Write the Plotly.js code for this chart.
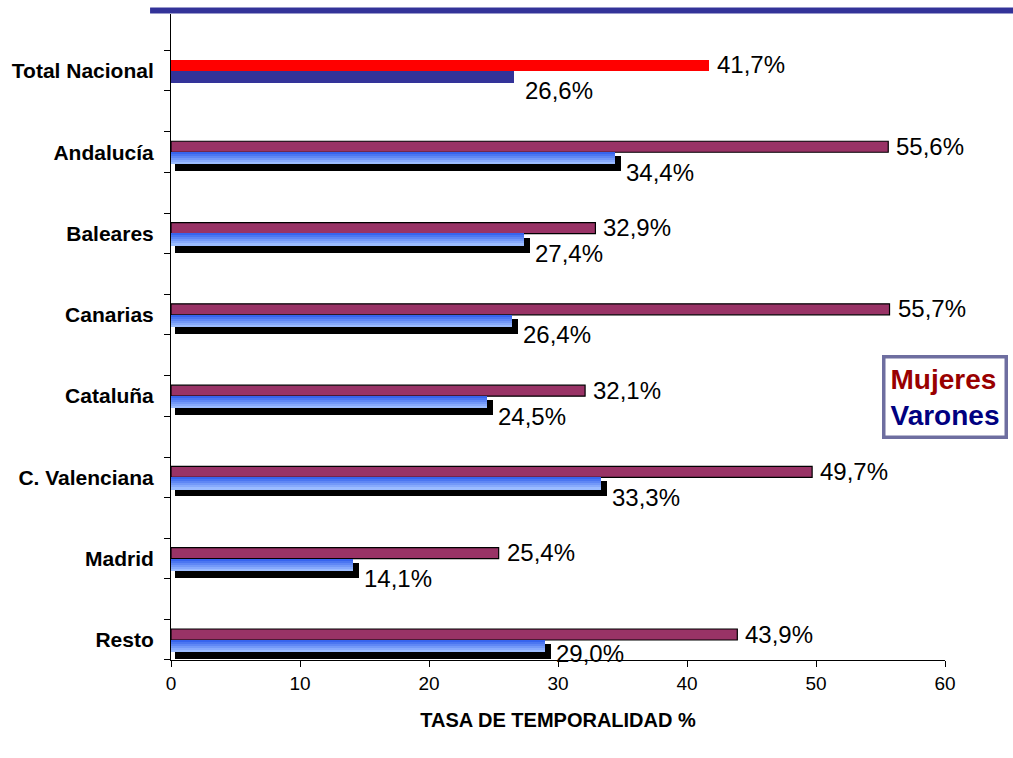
<!DOCTYPE html>
<html>
<head>
<meta charset="utf-8">
<script src="https://cdn.plot.ly/plotly-3.0.1.min.js"></script>
<style>html,body{margin:0;padding:0;background:#fff;}#chart{width:1013px;height:758px;}</style>
</head>
<body>
<div id="chart"></div>
<script>
const categories = ['Total Nacional','Andalucía','Baleares','Canarias','Cataluña','C. Valenciana','Madrid','Resto'];
const mujeres = [41.7, 55.6, 32.9, 55.7, 32.1, 49.7, 25.4, 43.9];
const varones = [26.6, 34.4, 27.4, 26.4, 24.5, 33.3, 14.1, 29.0];
const tickValsX = [0, 10, 20, 30, 40, 50, 60];
const seriesNames = ['Mujeres', 'Varones'];
const axisTitle = 'TASA DE TEMPORALIDAD %';

// pixel -> data unit helpers (plot is 774 px wide for 60 units, 647 px tall)
const PX_X = 774 / 60;
const Y_TOP = -0.713, Y_BOT = 7.246;
const PX_Y = 647 / (Y_BOT - Y_TOP);
const ux = p => p / PX_X;
const uy = p => p / PX_Y;

const FONT = 'Liberation Sans, Arial, sans-serif';
const fmt = v => v.toFixed(1).replace('.', ',') + '%';

const idx = categories.map((c, i) => i);
const regIdx = idx.slice(1);
const traces = [];

// Total Nacional
traces.push({type:'bar', orientation:'h', name:seriesNames[0], x:[mujeres[0]], y:[0 - uy(5.5)],
  width:uy(11), marker:{color:'#FF0000', line:{width:0}}, hoverinfo:'skip', showlegend:false});
traces.push({type:'bar', orientation:'h', name:seriesNames[1], x:[varones[0]], y:[0 + uy(6)],
  width:uy(12), marker:{color:'#333399', line:{width:0}}, hoverinfo:'skip', showlegend:false});

// Regions: Mujeres
traces.push({type:'bar', orientation:'h', name:seriesNames[0],
  x: regIdx.map(i => mujeres[i]), y: regIdx.map(i => i - uy(5.5)),
  width: uy(11), marker:{color:'#993366', line:{color:'#000', width:1.2}}, hoverinfo:'skip', showlegend:false});

// Regions: Varones shadow
traces.push({type:'bar', orientation:'h', name:seriesNames[1]+' sombra',
  x: regIdx.map(i => varones[i] + ux(2)), base: ux(4), y: regIdx.map(i => i + uy(11.5)),
  width: uy(15), marker:{color:'#000', line:{width:0}}, hoverinfo:'skip', showlegend:false});

// Regions: Varones gradient strips
const NS = 6;
const c0 = [55, 100, 238], c1 = [155, 188, 255];
for (let k = 0; k < NS; k++) {
  const t = k / (NS - 1);
  const col = 'rgb(' + c0.map((a, j) => Math.round(a + (c1[j] - a) * t)).join(',') + ')';
  traces.push({type:'bar', orientation:'h', name:seriesNames[1],
    x: regIdx.map(i => varones[i]), y: regIdx.map(i => i + uy(k * 2 + 1)),
    width: uy(2.4), marker:{color:col, line:{width:0}}, hoverinfo:'skip', showlegend:false});
}

// data labels
const annotations = [];
idx.forEach(i => {
  annotations.push({xref:'x', yref:'y', x: mujeres[i], y: i - uy(6), text: fmt(mujeres[i]),
    xanchor:'left', yanchor:'middle', xshift:6, showarrow:false, font:{family:FONT, size:24, color:'#000'}});
  annotations.push({xref:'x', yref:'y', x: varones[i], y: i + uy(i === categories.length - 1 ? 13 : 20), text: fmt(varones[i]),
    xanchor:'left', yanchor:'middle', xshift:9, showarrow:false, font:{family:FONT, size:24, color:'#000'}});
});

// legend box
annotations.push({xref:'paper', yref:'paper', x:1.0006, y:0.4065, xanchor:'center', yanchor:'middle',
  showarrow:false, align:'left',
  text:'<span style="color:#990000">' + seriesNames[0] + '</span><br><span style="color:#000080">' + seriesNames[1] + '</span>',
  font:{family:FONT, size:28, weight:'bold'}, bgcolor:'#fff', bordercolor:'#6E6EA0', borderwidth:3.5, borderpad:5});

const edges = [];
idx.forEach(i => { edges.push(i - 0.25, i + 0.245); });

const layout = {
  width:1013, height:758,
  margin:{l:171, r:68, t:13, b:98},
  paper_bgcolor:'#fff', plot_bgcolor:'#fff',
  barmode:'overlay', bargap:0,
  showlegend:false,
  font:{family:FONT, color:'#000'},
  xaxis:{range:[0, 60], tickvals:tickValsX, ticks:'outside', ticklen:6, tickcolor:'#000', tickwidth:1,
    showline:true, linecolor:'#000', linewidth:1, showgrid:false, zeroline:false,
    tickfont:{family:FONT, size:19, color:'#000'},
    title:{text:axisTitle, font:{family:FONT, size:20, weight:'bold', color:'#000'}, standoff:20}},
  yaxis:{range:[Y_BOT, Y_TOP], tickvals:idx, ticktext:categories, ticks:'', ticklabelstandoff:12,
    showline:true, linecolor:'#000', linewidth:1, showgrid:false, zeroline:false,
    tickfont:{family:FONT, size:21, weight:'bold', color:'#000'},
    minor:{tickvals:edges, ticks:'outside', ticklen:6, tickcolor:'#000', tickwidth:1, showgrid:false}},
  shapes:[
    {type:'line', xref:'paper', yref:'paper', x0:-0.027, x1:1.09, y0:1.0039, y1:1.0039, line:{color:'#9A9ACC', width:7}},
    {type:'line', xref:'paper', yref:'paper', x0:-0.027, x1:1.09, y0:1.0039, y1:1.0039, line:{color:'#333399', width:5}}
  ],
  annotations: annotations
};

Plotly.newPlot('chart', traces, layout, {displayModeBar:false, staticPlot:true});
</script>
</body>
</html>
